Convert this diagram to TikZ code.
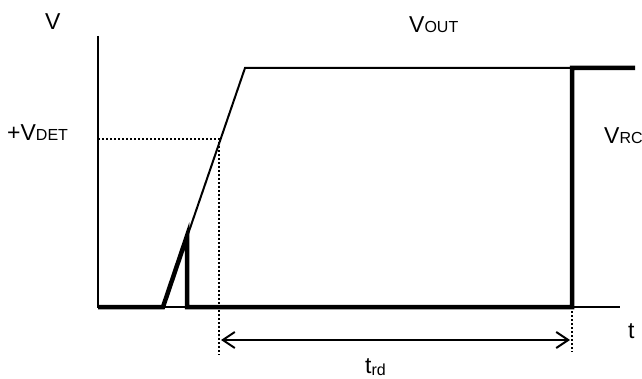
\documentclass[tikz,border=0pt]{standalone}
\usepackage{fontspec}
\setmainfont{Liberation Sans}
\usetikzlibrary{arrows.meta}
\newcommand{\subtxt}[1]{{\fontsize{16}{16}\selectfont #1}}
\begin{document}
\begin{tikzpicture}[x=1pt,y=-1pt,
  axisline/.style={line width=2pt},
  sigline/.style={line width=2pt, line join=miter},
  boldline/.style={line width=4.5pt, line join=miter},
  dotline/.style={line width=2pt, dash pattern=on 2pt off 2pt},
  dimline/.style={line width=2pt, shorten <=2pt, shorten >=2pt, {Straight Barb[length=12pt,width=16pt,line width=2pt]}-{Straight Barb[length=12pt,width=16pt,line width=2pt]}},
  lab/.style={inner sep=0pt, anchor=base west, font=\fontsize{23}{23}\selectfont}]
\useasboundingbox (0,0) rectangle (642,379);
\coordinate (ytop) at (98,36);
\coordinate (o) at (98,307);
\coordinate (xend) at (620,307);
\coordinate (rs) at (163,307);
\coordinate (rt) at (187,236);
\coordinate (rb) at (187,307);
\coordinate (vk) at (245,68);
\coordinate (det) at (219,139);
\coordinate (detl) at (98,139);
\coordinate (detb) at (219,355);
\coordinate (rcx) at (572,307);
\coordinate (rcb) at (572,352);
\coordinate (rctop) at (572,68);
\coordinate (rcend) at (635,68);
\coordinate (al) at (219,340);
\coordinate (ar) at (572,340);
% axes
\draw[axisline] (ytop) -- (o) -- (xend);
% Vout
\draw[sigline] (rs) -- (vk) -- (rctop);
% reset output
\draw[boldline] (o) -- (rs) -- (rt) -- (rb) -- (rcx) -- (rctop) -- (rcend);
% dotted guides
\draw[dotline] (detl) -- (det) -- (detb);
\draw[dotline] (rcx) -- (rcb);
% t_rd arrow
\draw[dimline] (al) -- (ar);
% labels
\node[lab] (lv) at (45,30) {V};
\node[lab] (lvout) at (409,33) {V\subtxt{OUT}};
\node[lab] (lvdet) at (7,141) {+V\subtxt{DET}};
\node[lab] (lvrc) at (604,144) {V\subtxt{RC}};
\node[lab] (lt) at (628,338) {t};
\node[lab] (ltrd) at (365,373) {t\raisebox{-2pt}{\subtxt{rd}}};
\end{tikzpicture}
\end{document}
